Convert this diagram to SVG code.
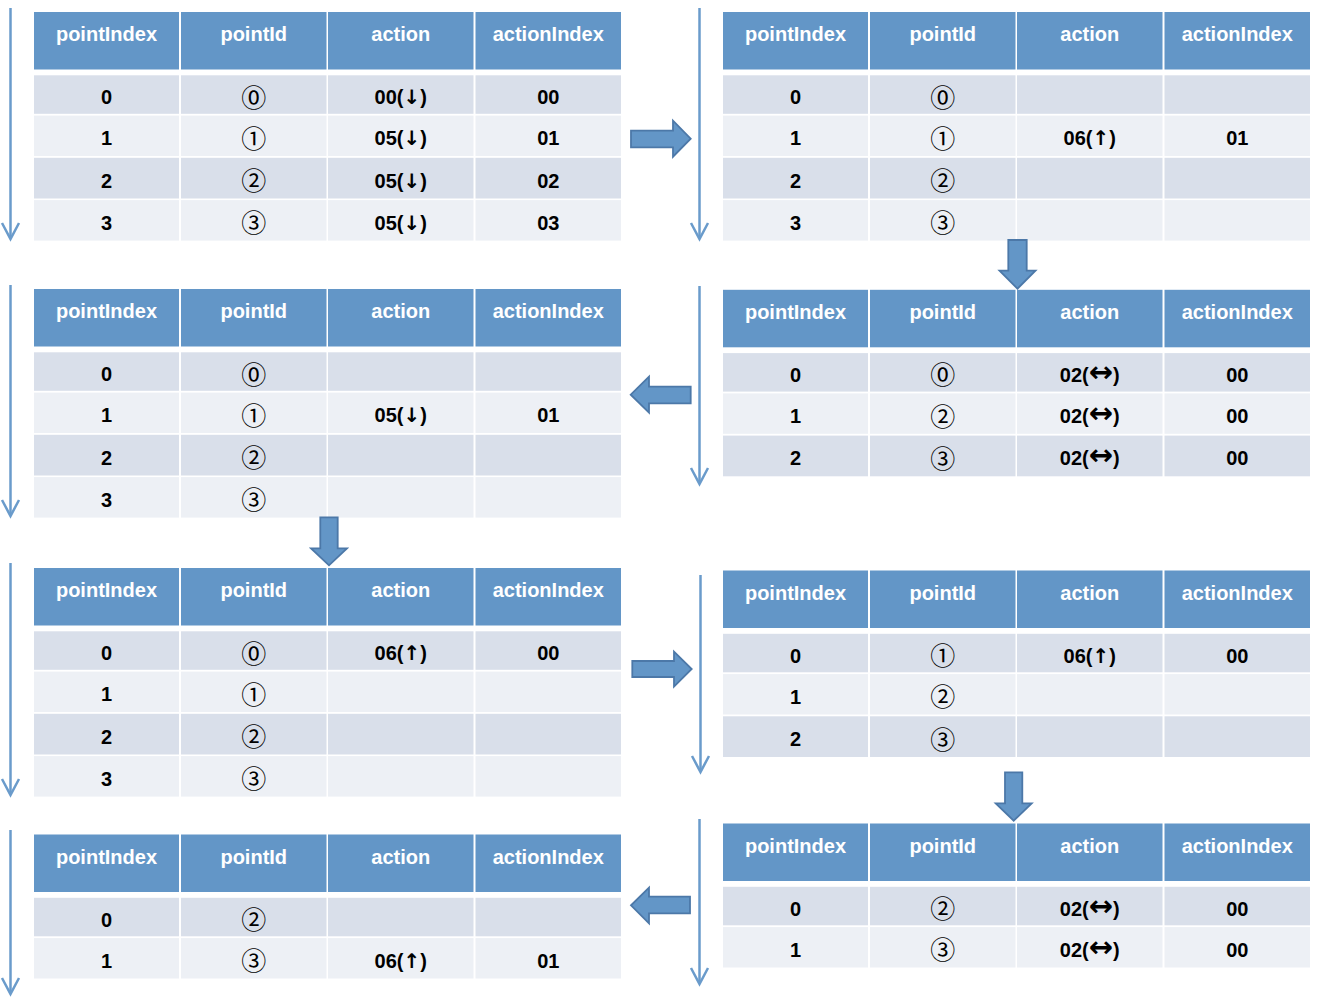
<svg xmlns="http://www.w3.org/2000/svg" width="1322" height="1002" viewBox="0 0 1322 1002">
<style>
.hd{fill:#6396C7}
.r0{fill:#D9DFEA}
.r1{fill:#EDF0F5}
.ht{font-family:"Liberation Sans",Arial,sans-serif;font-weight:bold;font-size:20px;fill:#FFFFFF;text-anchor:middle}
.bt{font-family:"Liberation Sans",Arial,sans-serif;font-weight:bold;font-size:20px;fill:#000000;text-anchor:middle}
.ar{font-family:"DejaVu Sans",sans-serif;font-weight:bold;font-size:20px}
.aw{font-family:"DejaVu Sans",sans-serif;font-weight:bold;font-size:29px}
.ct{font-family:"Noto Sans CJK JP","DejaVu Sans",sans-serif;font-weight:normal;font-size:25px;fill:#000000;text-anchor:middle}
.ln{stroke:#6A9BCB;stroke-width:2.5;fill:none}
.blk{fill:#6396C7;stroke:#4C78A8;stroke-width:1.8;stroke-linejoin:miter}
</style>
<defs>
<marker id="v" viewBox="-20 -12 24 24" refX="0" refY="0" markerWidth="24" markerHeight="24" markerUnits="userSpaceOnUse" orient="auto">
<path d="M-16,-8.5 L0,0 L-16,8.5" fill="none" stroke="#6A9BCB" stroke-width="2.5"/>
</marker>
<g id="head">
<rect class="hd" x="0" y="0" width="145" height="57.5"/>
<rect class="hd" x="147" y="0" width="145.5" height="57.5"/>
<rect class="hd" x="294" y="0" width="145.5" height="57.5"/>
<rect class="hd" x="441.5" y="0" width="145.5" height="57.5"/>
<text class="ht" x="72.5" y="29">pointIndex</text>
<text class="ht" x="219.75" y="29">pointId</text>
<text class="ht" x="366.75" y="29">action</text>
<text class="ht" x="514.25" y="29">actionIndex</text>
</g>
<g id="row0">
<rect class="r0" x="0" y="63.3" width="145" height="38.5"/>
<rect class="r0" x="147" y="63.3" width="145.5" height="38.5"/>
<rect class="r0" x="294" y="63.3" width="145.5" height="38.5"/>
<rect class="r0" x="441.5" y="63.3" width="145.5" height="38.5"/>
</g>
<g id="row1">
<rect class="r1" x="0" y="103.6" width="145" height="40.4"/>
<rect class="r1" x="147" y="103.6" width="145.5" height="40.4"/>
<rect class="r1" x="294" y="103.6" width="145.5" height="40.4"/>
<rect class="r1" x="441.5" y="103.6" width="145.5" height="40.4"/>
</g>
<g id="row2">
<rect class="r0" x="0" y="145.8" width="145" height="40.7"/>
<rect class="r0" x="147" y="145.8" width="145.5" height="40.7"/>
<rect class="r0" x="294" y="145.8" width="145.5" height="40.7"/>
<rect class="r0" x="441.5" y="145.8" width="145.5" height="40.7"/>
</g>
<g id="row3">
<rect class="r1" x="0" y="188.1" width="145" height="40.5"/>
<rect class="r1" x="147" y="188.1" width="145.5" height="40.5"/>
<rect class="r1" x="294" y="188.1" width="145.5" height="40.5"/>
<rect class="r1" x="441.5" y="188.1" width="145.5" height="40.5"/>
</g>
</defs>

<g id="table1" transform="translate(34,12)">
<use href="#head"/><use href="#row0"/><use href="#row1"/><use href="#row2"/><use href="#row3"/>
<text class="bt" x="72.5" y="92">0</text><text class="ct" x="219.75" y="94.5">⓪</text><text class="bt" x="366.75" y="92">00(<tspan class="ar">↓</tspan>)</text><text class="bt" x="514.25" y="92">00</text>
<text class="bt" x="72.5" y="133.3">1</text><text class="ct" x="219.75" y="135.8">①</text><text class="bt" x="366.75" y="133.3">05(<tspan class="ar">↓</tspan>)</text><text class="bt" x="514.25" y="133.3">01</text>
<text class="bt" x="72.5" y="175.6">2</text><text class="ct" x="219.75" y="178.1">②</text><text class="bt" x="366.75" y="175.6">05(<tspan class="ar">↓</tspan>)</text><text class="bt" x="514.25" y="175.6">02</text>
<text class="bt" x="72.5" y="217.8">3</text><text class="ct" x="219.75" y="220.3">③</text><text class="bt" x="366.75" y="217.8">05(<tspan class="ar">↓</tspan>)</text><text class="bt" x="514.25" y="217.8">03</text>
</g>

<g id="table2" transform="translate(723,12)">
<use href="#head"/><use href="#row0"/><use href="#row1"/><use href="#row2"/><use href="#row3"/>
<text class="bt" x="72.5" y="92">0</text><text class="ct" x="219.75" y="94.5">⓪</text>
<text class="bt" x="72.5" y="133.3">1</text><text class="ct" x="219.75" y="135.8">①</text><text class="bt" x="366.75" y="133.3">06(<tspan class="ar">↑</tspan>)</text><text class="bt" x="514.25" y="133.3">01</text>
<text class="bt" x="72.5" y="175.6">2</text><text class="ct" x="219.75" y="178.1">②</text>
<text class="bt" x="72.5" y="217.8">3</text><text class="ct" x="219.75" y="220.3">③</text>
</g>

<g id="table3" transform="translate(34,289)">
<use href="#head"/><use href="#row0"/><use href="#row1"/><use href="#row2"/><use href="#row3"/>
<text class="bt" x="72.5" y="92">0</text><text class="ct" x="219.75" y="94.5">⓪</text>
<text class="bt" x="72.5" y="133.3">1</text><text class="ct" x="219.75" y="135.8">①</text><text class="bt" x="366.75" y="133.3">05(<tspan class="ar">↓</tspan>)</text><text class="bt" x="514.25" y="133.3">01</text>
<text class="bt" x="72.5" y="175.6">2</text><text class="ct" x="219.75" y="178.1">②</text>
<text class="bt" x="72.5" y="217.8">3</text><text class="ct" x="219.75" y="220.3">③</text>
</g>

<g id="table4" transform="translate(723,289.8)">
<use href="#head"/><use href="#row0"/><use href="#row1"/><use href="#row2"/>
<text class="bt" x="72.5" y="92">0</text><text class="ct" x="219.75" y="94.5">⓪</text><text class="bt" x="366.75" y="92">02(<tspan class="aw">↔</tspan>)</text><text class="bt" x="514.25" y="92">00</text>
<text class="bt" x="72.5" y="133.3">1</text><text class="ct" x="219.75" y="135.8">②</text><text class="bt" x="366.75" y="133.3">02(<tspan class="aw">↔</tspan>)</text><text class="bt" x="514.25" y="133.3">00</text>
<text class="bt" x="72.5" y="175.6">2</text><text class="ct" x="219.75" y="178.1">③</text><text class="bt" x="366.75" y="175.6">02(<tspan class="aw">↔</tspan>)</text><text class="bt" x="514.25" y="175.6">00</text>
</g>

<g id="table5" transform="translate(34,568)">
<use href="#head"/><use href="#row0"/><use href="#row1"/><use href="#row2"/><use href="#row3"/>
<text class="bt" x="72.5" y="92">0</text><text class="ct" x="219.75" y="94.5">⓪</text><text class="bt" x="366.75" y="92">06(<tspan class="ar">↑</tspan>)</text><text class="bt" x="514.25" y="92">00</text>
<text class="bt" x="72.5" y="133.3">1</text><text class="ct" x="219.75" y="135.8">①</text>
<text class="bt" x="72.5" y="175.6">2</text><text class="ct" x="219.75" y="178.1">②</text>
<text class="bt" x="72.5" y="217.8">3</text><text class="ct" x="219.75" y="220.3">③</text>
</g>

<g id="table6" transform="translate(723,570.5)">
<use href="#head"/><use href="#row0"/><use href="#row1"/><use href="#row2"/>
<text class="bt" x="72.5" y="92">0</text><text class="ct" x="219.75" y="94.5">①</text><text class="bt" x="366.75" y="92">06(<tspan class="ar">↑</tspan>)</text><text class="bt" x="514.25" y="92">00</text>
<text class="bt" x="72.5" y="133.3">1</text><text class="ct" x="219.75" y="135.8">②</text>
<text class="bt" x="72.5" y="175.6">2</text><text class="ct" x="219.75" y="178.1">③</text>
</g>

<g id="table7" transform="translate(34,834.5)">
<use href="#head"/><use href="#row0"/><use href="#row1"/>
<text class="bt" x="72.5" y="92">0</text><text class="ct" x="219.75" y="94.5">②</text>
<text class="bt" x="72.5" y="133.3">1</text><text class="ct" x="219.75" y="135.8">③</text><text class="bt" x="366.75" y="133.3">06(<tspan class="ar">↑</tspan>)</text><text class="bt" x="514.25" y="133.3">01</text>
</g>

<g id="table8" transform="translate(723,823.5)">
<use href="#head"/><use href="#row0"/><use href="#row1"/>
<text class="bt" x="72.5" y="92">0</text><text class="ct" x="219.75" y="94.5">②</text><text class="bt" x="366.75" y="92">02(<tspan class="aw">↔</tspan>)</text><text class="bt" x="514.25" y="92">00</text>
<text class="bt" x="72.5" y="133.3">1</text><text class="ct" x="219.75" y="135.8">③</text><text class="bt" x="366.75" y="133.3">02(<tspan class="aw">↔</tspan>)</text><text class="bt" x="514.25" y="133.3">00</text>
</g>

<g id="connectors">
<line class="ln" x1="10.5" y1="8" x2="10.5" y2="239" marker-end="url(#v)"/>
<line class="ln" x1="699.5" y1="8" x2="699.5" y2="239" marker-end="url(#v)"/>
<line class="ln" x1="10.5" y1="285" x2="10.5" y2="516" marker-end="url(#v)"/>
<line class="ln" x1="699.5" y1="286" x2="699.5" y2="484" marker-end="url(#v)"/>
<line class="ln" x1="10.5" y1="563" x2="10.5" y2="795" marker-end="url(#v)"/>
<line class="ln" x1="700.5" y1="575" x2="700.5" y2="772" marker-end="url(#v)"/>
<line class="ln" x1="10.5" y1="830" x2="10.5" y2="994" marker-end="url(#v)"/>
<line class="ln" x1="699.5" y1="819" x2="699.5" y2="984" marker-end="url(#v)"/>

<path class="blk" d="M631,130.7 H673 V120.7 L690.7,138.7 L673,156.7 V147.3 H631 Z"/>
<path class="blk" d="M1008.3,240 V270.7 H999.5 L1017.5,288.7 L1035.5,270.7 H1026.7 V240 Z"/>
<path class="blk" d="M690.7,386.7 H649 V376.7 L630.7,394.7 L649,412.7 V403.3 H690.7 Z"/>
<path class="blk" d="M320.3,517.3 V548.3 H311 L329,565.3 L347,548.3 H337.7 V517.3 Z"/>
<path class="blk" d="M632.3,661 H674 V651.7 L691.7,669 L674,686.7 V677 H632.3 Z"/>
<path class="blk" d="M1005,772.3 V803.3 H995.7 L1013.7,820.7 L1031.7,803.3 H1022.3 V772.3 Z"/>
<path class="blk" d="M690,896.7 H649 V887.7 L631,905.3 L649,923.3 V913.3 H690 Z"/>
</g>
</svg>
